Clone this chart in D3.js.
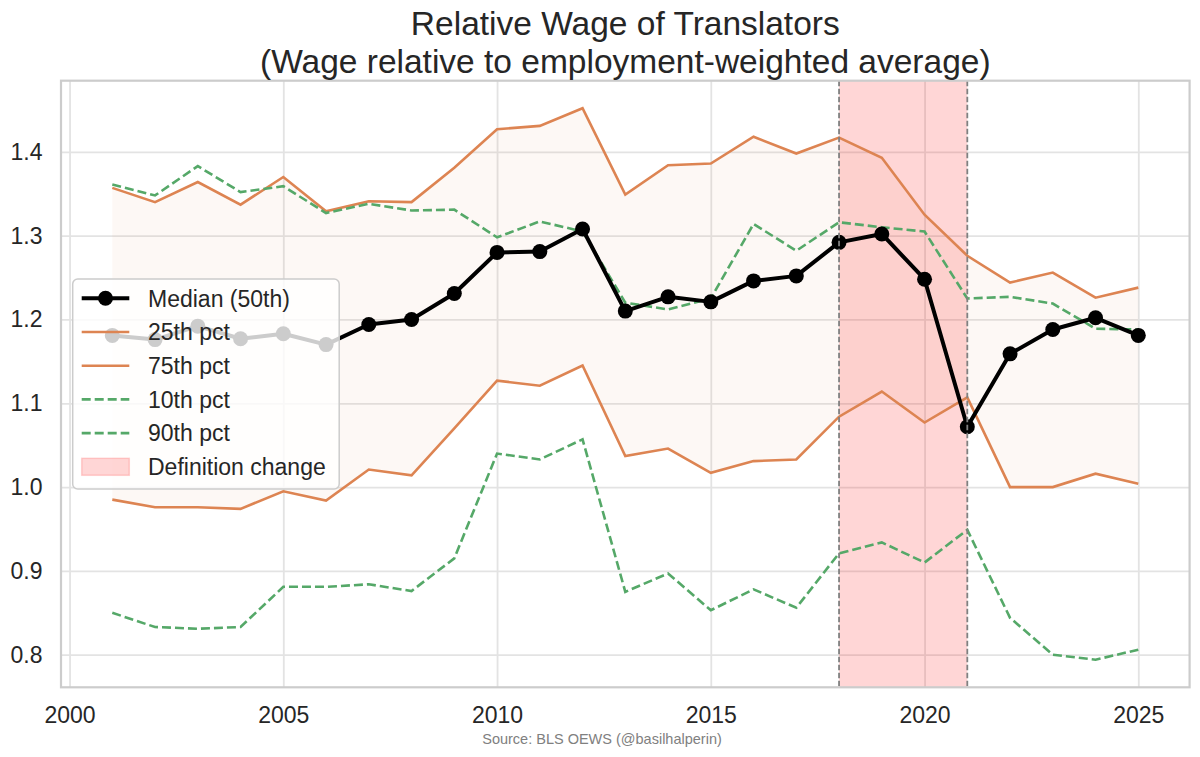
<!DOCTYPE html>
<html>
<head>
<meta charset="utf-8">
<script src="https://cdn.jsdelivr.net/npm/d3@7"></script>
<style>
  body { margin: 0; background: #fff; }
  svg { display: block; font-family: "Liberation Sans", Arial, sans-serif; }
</style>
</head>
<body>
<svg id="chart" width="1200" height="757"></svg>
<script>
// data
const years = [2001,2002,2003,2004,2005,2006,2007,2008,2009,2010,2011,2012,2013,
               2014,2015,2016,2017,2018,2019,2020,2021,2022,2023,2024,2025];
const p50 = [1.181,1.176,1.192,1.177,1.183,1.170,1.194,1.200,1.231,1.280,1.281,1.308,1.210,
             1.227,1.221,1.246,1.252,1.292,1.302,1.248,1.072,1.159,1.188,1.202,1.181];
const p25 = [0.985,0.976,0.976,0.974,0.995,0.984,1.021,1.014,1.070,1.127,1.121,1.145,1.037,
             1.046,1.017,1.031,1.033,1.084,1.114,1.077,1.107,1.000,1.000,1.016,1.004];
const p75 = [1.357,1.340,1.364,1.337,1.370,1.329,1.341,1.340,1.381,1.427,1.431,1.452,1.349,
             1.384,1.386,1.418,1.398,1.417,1.393,1.325,1.276,1.244,1.256,1.226,1.238];
const p10 = [0.850,0.833,0.831,0.833,0.881,0.881,0.884,0.876,0.915,1.040,1.033,1.057,0.875,
             0.897,0.853,0.878,0.856,0.921,0.934,0.910,0.949,0.844,0.800,0.794,0.806];
const p90 = [1.361,1.348,1.383,1.352,1.359,1.327,1.338,1.330,1.331,1.298,1.317,1.305,1.220,
             1.212,1.225,1.314,1.282,1.316,1.310,1.305,1.225,1.227,1.219,1.189,1.188];
const defChange = [2018, 2021];
const xTicks = [2000,2005,2010,2015,2020,2025];
const yTicks = [0.8,0.9,1.0,1.1,1.2,1.3,1.4];

const orange = '#dd8452', green = '#55a868', textCol = '#262626';
const mL = 61, mR = 1189.6, mT = 80.7, mB = 687.3;

const svg = d3.select('#chart');

// matplotlib-style 5% margins
const xr = d3.extent(years), xpad = (xr[1]-xr[0])*0.05;
const allV = p10.concat(p25, p50, p75, p90);
const yr = d3.extent(allV), ypad = (yr[1]-yr[0])*0.05;

const x = d3.scaleLinear().domain([xr[0]-xpad, xr[1]+xpad]).range([mL, mR]);
const y = d3.scaleLinear().domain([yr[0]-ypad, yr[1]+ypad]).range([mB, mT]);

// grid
svg.append('g')
  .attr('transform', `translate(0,${mB})`)
  .call(d3.axisBottom(x).tickValues(xTicks).tickSize(-(mB-mT)).tickFormat(''))
  .call(g => g.select('.domain').remove())
  .call(g => g.selectAll('line').attr('stroke', '#e3e3e3').attr('stroke-width', 1.8));
svg.append('g')
  .attr('transform', `translate(${mL},0)`)
  .call(d3.axisLeft(y).tickValues(yTicks).tickSize(-(mR-mL)).tickFormat(''))
  .call(g => g.select('.domain').remove())
  .call(g => g.selectAll('line').attr('stroke', '#e3e3e3').attr('stroke-width', 1.8));

const rows = years.map((yv, i) => ({yr: yv, p10: p10[i], p25: p25[i], p50: p50[i], p75: p75[i], p90: p90[i]}));

// IQR band
svg.append('path')
  .datum(rows)
  .attr('d', d3.area().x(d => x(d.yr)).y0(d => y(d.p25)).y1(d => y(d.p75)))
  .attr('fill', orange).attr('fill-opacity', 0.06);

// definition change span
svg.append('rect')
  .attr('x', x(defChange[0])).attr('width', x(defChange[1]) - x(defChange[0]))
  .attr('y', mT).attr('height', mB - mT)
  .attr('fill', 'red').attr('fill-opacity', 0.16);

const line = key => d3.line().x(d => x(d.yr)).y(d => y(d[key]));

[['p25', orange, null], ['p75', orange, null], ['p10', green, '9,4'], ['p90', green, '9,4']]
  .forEach(([k, c, dash]) => {
    svg.append('path').datum(rows)
      .attr('d', line(k)).attr('fill', 'none')
      .attr('stroke', c).attr('stroke-width', 2.6)
      .attr('stroke-dasharray', dash);
  });

svg.append('path').datum(rows)
  .attr('d', line('p50')).attr('fill', 'none')
  .attr('stroke', '#000').attr('stroke-width', 4).attr('stroke-linejoin', 'round');
svg.append('g').selectAll('circle').data(rows).join('circle')
  .attr('cx', d => x(d.yr)).attr('cy', d => y(d.p50)).attr('r', 7.5).attr('fill', '#000');

// vertical markers
defChange.forEach(v => {
  svg.append('line')
    .attr('x1', x(v)).attr('x2', x(v)).attr('y1', mT).attr('y2', mB)
    .attr('stroke', '#808080').attr('stroke-width', 1.8).attr('stroke-dasharray', '5.5,2.5');
});

// spines
svg.append('rect')
  .attr('x', mL).attr('y', mT).attr('width', mR-mL).attr('height', mB-mT)
  .attr('fill', 'none').attr('stroke', '#cccccc').attr('stroke-width', 2.2);

// tick labels
svg.append('g')
  .attr('transform', `translate(0,${mB})`)
  .call(d3.axisBottom(x).tickValues(xTicks).tickSize(0).tickPadding(19.4).tickFormat(d3.format('d')))
  .call(g => g.select('.domain').remove())
  .call(g => g.selectAll('text').attr('fill', textCol).attr('font-size', 23)
    .attr('font-family', '"Liberation Sans", Arial, sans-serif'));
svg.append('g')
  .attr('transform', `translate(${mL},0)`)
  .call(d3.axisLeft(y).tickValues(yTicks).tickSize(0).tickPadding(18.5).tickFormat(d3.format('.1f')))
  .call(g => g.select('.domain').remove())
  .call(g => g.selectAll('text').attr('fill', textCol).attr('font-size', 23)
    .attr('font-family', '"Liberation Sans", Arial, sans-serif'));

// title
const cx = (mL + mR) / 2;
svg.append('text').attr('x', cx).attr('y', 35).attr('text-anchor', 'middle')
  .attr('font-size', 33.5).attr('fill', textCol).text('Relative Wage of Translators');
svg.append('text').attr('x', cx).attr('y', 73).attr('text-anchor', 'middle')
  .attr('font-size', 33.5).attr('fill', textCol).text('(Wage relative to employment-weighted average)');

// source
svg.append('text').attr('x', 602).attr('y', 744).attr('text-anchor', 'middle')
  .attr('font-size', 14.5).attr('fill', '#808080').text('Source: BLS OEWS (@basilhalperin)');

// legend
const legendItems = [
  {label: 'Median (50th)', type: 'marker', color: '#000'},
  {label: '25th pct', type: 'line', color: orange},
  {label: '75th pct', type: 'line', color: orange},
  {label: '10th pct', type: 'dash', color: green},
  {label: '90th pct', type: 'dash', color: green},
  {label: 'Definition change', type: 'patch', color: 'red'}
];
const lg = svg.append('g');
lg.append('rect')
  .attr('x', 72.7).attr('y', 279).attr('width', 266.5).attr('height', 210).attr('rx', 5)
  .attr('fill', '#fff').attr('fill-opacity', 0.8).attr('stroke', '#cccccc').attr('stroke-width', 1.5);
legendItems.forEach((it, i) => {
  const cy = 298.3 + i * 33.7;
  const g = lg.append('g');
  if (it.type === 'patch') {
    g.append('rect').attr('x', 81.7).attr('y', cy - 8.5).attr('width', 47.6).attr('height', 17)
      .attr('fill', 'red').attr('fill-opacity', 0.16)
      .attr('stroke', 'red').attr('stroke-opacity', 0.16).attr('stroke-width', 1.5);
  } else {
    g.append('line').attr('x1', 81.7).attr('x2', 129.3).attr('y1', cy).attr('y2', cy)
      .attr('stroke', it.color).attr('stroke-width', it.type === 'marker' ? 4 : 2.6)
      .attr('stroke-dasharray', it.type === 'dash' ? '9,4' : null);
    if (it.type === 'marker') {
      g.append('circle').attr('cx', 105.5).attr('cy', cy).attr('r', 7.5).attr('fill', it.color);
    }
  }
  g.append('text').attr('x', 148).attr('y', cy + 8.2)
    .attr('font-size', 23).attr('fill', textCol).text(it.label);
});
</script>
</body>
</html>
